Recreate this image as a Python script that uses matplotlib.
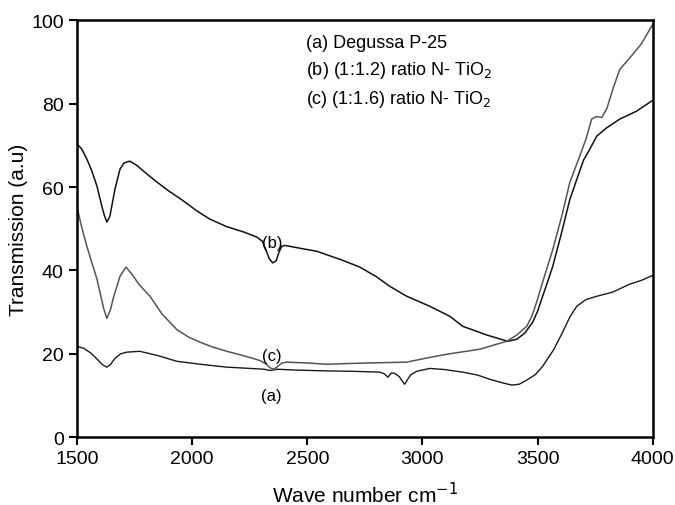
import matplotlib
matplotlib.use('Agg')
import matplotlib.pyplot as plt

plt.rcParams['font.family'] = ['Liberation Sans', 'DejaVu Sans']

# (a) Degussa P-25
xa = [1500, 1530, 1560, 1590, 1610, 1630, 1645, 1665, 1690, 1717, 1773, 1850, 1934, 2050,
      2151, 2250, 2312, 2340, 2370, 2450, 2585, 2700, 2815, 2835, 2850, 2865, 2880, 2900,
      2912, 2923, 2935, 2950, 2975, 3032, 3100, 3175, 3240, 3292, 3350, 3388, 3420, 3450,
      3490, 3522, 3570, 3609, 3640, 3670, 3710, 3757, 3826, 3900, 3950, 4000]
ya = [21.8, 21.3, 20.2, 18.6, 17.4, 16.8, 17.4, 18.9, 20.0, 20.4, 20.6, 19.6, 18.2, 17.4,
      16.8, 16.5, 16.3, 16.0, 16.3, 16.1, 15.9, 15.8, 15.6, 15.2, 14.4, 15.4, 15.3, 14.5,
      13.5, 12.7, 13.8, 15.0, 15.8, 16.5, 16.2, 15.6, 14.9, 13.9, 13.0, 12.5, 12.7, 13.6,
      15.0, 17.0, 21.0, 25.2, 28.8, 31.4, 33.0, 33.8, 34.8, 36.7, 37.6, 38.8]

# (b) (1:1.2) ratio N-TiO2
xb = [1500, 1520, 1543, 1565, 1587, 1608, 1620, 1630, 1643, 1655, 1665, 1687, 1705, 1730,
      1760, 1800, 1847, 1900, 1964, 2020, 2077, 2150, 2225, 2281, 2305, 2320, 2335, 2350,
      2365, 2378, 2390, 2403, 2470, 2541, 2650, 2728, 2800, 2858, 2932, 3032, 3119, 3175,
      3280, 3371, 3410, 3445, 3479, 3500, 3522, 3545, 3566, 3605, 3640, 3675, 3700, 3726,
      3757, 3800, 3857, 3930, 4000]
yb = [70.3, 69.2, 66.7, 63.8, 60.2, 55.4, 53.0, 51.6, 53.0, 56.5, 59.5, 64.3, 65.8, 66.2,
      65.2, 63.3, 61.2, 59.0, 56.6, 54.3, 52.3, 50.5, 49.2, 48.0, 47.0, 45.0, 42.8, 41.8,
      42.3, 44.5, 45.8, 46.0, 45.3, 44.6, 42.5, 40.8, 38.5, 36.2, 33.8, 31.4, 29.0, 26.6,
      24.5, 23.0, 23.5, 25.0, 27.6, 30.2, 33.8, 37.5, 41.0, 49.2, 57.0, 62.6, 66.5, 69.0,
      72.2, 74.2, 76.3, 78.2, 80.8]

# (c) (1:1.6) ratio N-TiO2
xc = [1500, 1520, 1543, 1565, 1587, 1605, 1617, 1630, 1645, 1660, 1687, 1713, 1740, 1770,
      1817, 1870, 1934, 1985, 2034, 2090, 2151, 2220, 2294, 2320, 2340, 2355, 2370, 2390,
      2411, 2500, 2585, 2758, 2932, 3020, 3106, 3249, 3366, 3410, 3453, 3475, 3496, 3522,
      3566, 3605, 3640, 3683, 3710, 3735, 3755, 3779, 3800, 3830, 3857, 3913, 3950, 4000]
yc = [55.3, 50.5, 45.8, 41.8, 37.9, 33.5, 30.7, 28.5, 30.5, 33.8, 38.6, 40.8, 39.0, 36.6,
      33.8, 29.5, 25.8, 24.0, 22.8, 21.6, 20.6, 19.6, 18.4, 17.6, 16.6, 16.3, 16.9, 17.8,
      18.0, 17.8, 17.5, 17.8, 18.0, 19.0, 19.9, 21.1, 23.0, 24.5, 26.6, 29.0, 32.4, 37.2,
      45.0, 53.0, 61.1, 67.4, 71.5, 76.3, 76.9, 76.7, 78.7, 84.0, 88.2, 91.8, 94.3, 99.0]

xticks = [1500, 2000, 2500, 3000, 3500, 4000]
yticks = [0, 20, 40, 60, 80, 100]

fig = plt.figure(figsize=(6.75, 5.06), dpi=100)
ax = fig.add_axes([0.114, 0.134, 0.853, 0.824])

ax.plot(xa, ya, color='#1a1a1a', lw=1.0)
ax.plot(xb, yb, color='#111111', lw=1.1)
ax.plot(xc, yc, color='#555555', lw=1.1)

ax.text(2346, 46.8, '(b)', ha='center', va='center', fontsize=12)
ax.text(2346, 19.6, '(c)', ha='center', va='center', fontsize=12)
ax.text(2346, 10.0, '(a)', ha='center', va='center', fontsize=12)

ax.text(2494, 94.6, '(a) Degussa P-25', ha='left', va='center', fontsize=13)
ax.text(2494, 88.3, '(b) (1:1.2) ratio N- TiO$_2$', ha='left', va='center', fontsize=13)
ax.text(2494, 81.3, '(c) (1:1.6) ratio N- TiO$_2$', ha='left', va='center', fontsize=13)

ax.set_xlim(1500, 4000)
ax.set_ylim(0, 100)
ax.set_xticks(xticks)
ax.set_yticks(yticks)
ax.tick_params(direction='out', length=6, width=1.5, labelsize=14)
ax.tick_params(top=False, right=False)
for s in ax.spines.values():
    s.set_linewidth(1.8)

ax.set_xlabel('Wave number cm$^{-1}$', fontsize=15, labelpad=10)
ax.set_ylabel('Transmission (a.u)', fontsize=15, labelpad=2)

fig.savefig('out.png', dpi=100)
